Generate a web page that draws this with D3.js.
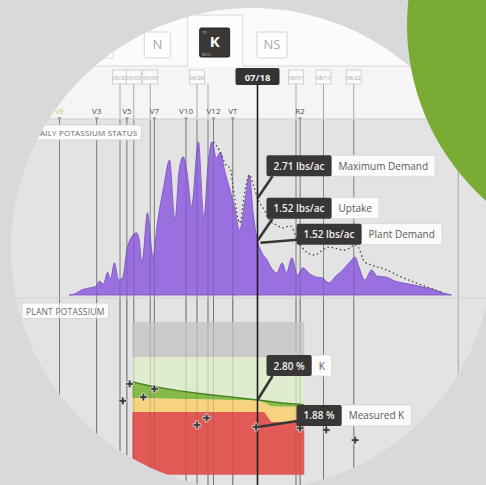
<!DOCTYPE html>
<html>
<head>
<meta charset="utf-8">
<script src="https://cdn.jsdelivr.net/npm/d3@7"></script>
<style>
  body { margin: 0; background: #d8d9db; }
  svg { display: block; font-family: "Open Sans", "Liberation Sans", Arial, sans-serif; }
</style>
</head>
<body>
<script>
'use strict';

// nutrient tabs
const tabNames = ['P', 'N', 'K', 'NS'];
const activeTab = 'K';

// growth stages (day of year)
const stageNames = ['VE', 'V3', 'V5', 'V7', 'V10', 'V12', 'VT', 'R2'];
const stageDays = [127, 140.5, 151.5, 161.5, 173, 183, 190, 214.5];

// sampling dates (day of year); an empty label is a line without a box
const dateLabels = ['05/29', '06/03', '06/09', '06/26', '', '07/18', '08/01', '08/11', '08/22'];
const dateDays = [149, 154, 160, 177, 181, 199, 213, 223, 234];
const selectedDay = 199;

// daily potassium uptake, lbs/ac
const uptakeDays = [
  130.5, 132.5, 135, 138, 140.5, 141.5, 143, 144.5, 145.5, 147,
  148.5, 150, 151.5, 153, 155, 156, 157, 159, 161, 162.5, 165,
  167, 169, 170.5, 172, 173.5, 175, 177.5, 179.5, 181, 182.5,
  184, 185.5, 187, 189, 190.5, 192.5, 194.5, 196, 197.5, 199,
  200.5, 202.5, 204, 206, 208, 209.5, 211.5, 213.5, 215.5, 218,
  220.5, 222.5, 225, 227.5, 230, 232.5, 234.5, 236, 238, 240.5,
  242.5, 246, 249, 251.5, 256, 260.5, 263.5, 266.5, 269.5];
const uptakeValues = [
  0, 0.03, 0.14, 0.2, 0.25, 0.39, 0.31, 0.64, 0.45, 0.9,
  0.42, 0.5, 1.26, 1.6, 1.74, 1.54, 0.9, 2.3, 1.06, 1.96, 3.08,
  3.78, 2.1, 3.5, 3.87, 3.36, 2.46, 4.29, 2.16, 3.64, 4.29,
  3.84, 4.0, 3.5, 2.94, 2.52, 1.82, 2.66, 3.36, 2.24, 1.52,
  1.2, 0.98, 0.76, 0.62, 0.9, 0.62, 1.04, 0.56, 0.76, 0.59,
  0.5, 0.48, 0.34, 0.53, 0.7, 0.92, 1.06, 0.76, 0.42, 0.7,
  0.53, 0.5, 0.39, 0.34, 0.28, 0.2, 0.14, 0.06, 0];

// maximum demand (dashed), lbs/ac
const maxDemandDays = [
  183, 185.5, 187.5, 189, 190.5, 192.5, 194.5, 196, 197.5, 199,
  201.5, 204, 206, 208, 211, 213.5, 216, 219.5, 225, 230.5,
  235, 238, 240.5, 246, 250.5, 256, 261.5, 266.5];
const maxDemandValues = [
  4.29, 4.0, 3.64, 3.56, 2.8, 2.02, 2.94, 3.36, 3.08, 2.71,
  2.38, 2.04, 1.96, 1.88, 1.93, 1.54, 1.26, 1.12, 1.34, 1.26,
  1.4, 0.92, 0.84, 0.7, 0.53, 0.36, 0.2, 0.06];

// plant potassium, %
const kDays = [153.5, 160, 170, 180, 190, 199, 208, 216];
const kValues = [3.42, 3.28, 3.12, 3.0, 2.9, 2.80, 2.70, 2.64];
const zoneDays = [153.5, 199, 201.5, 204, 216];
const sufficientLow = [2.87, 2.78, 2.72, 2.58, 2.56];
const deficientTop = [2.39, 2.39, 2.39, 2.05, 2.05];
const highBand = [4.27, 5.47];
const zoneBottom = 0.25;

const measuredDays = [150, 152.5, 157.5, 161.5, 177, 180.5, 198.5, 214.5, 224, 234.5];
const measuredValues = [2.77, 3.35, 2.9, 3.18, 1.95, 2.19, 1.88, 1.84, 1.78, 1.43];

// tooltip readouts at the selected date
const topTipValues = [2.71, 1.52, 1.52];
const topTipNames = ['Maximum Demand', 'Uptake', 'Plant Demand'];
const botTipValues = [2.80, 1.88];
const botTipNames = ['K', 'Measured K'];

const W = 486, H = 485;

const svg = d3.select('body').append('svg')
  .attr('width', W)
  .attr('height', H);

svg.append('rect').attr('width', W).attr('height', H).attr('fill', '#d8d9db');

svg.append('defs').append('clipPath').attr('id', 'lens')
  .append('circle').attr('cx', 252).attr('cy', 249).attr('r', 241);

const g = svg.append('g').attr('clip-path', 'url(#lens)');

// scales
const x = d3.scaleLinear().domain([121, 272]).range([43, 458.25]);
const yTop = d3.scaleLinear().domain([0, 4.9]).range([295, 120]);
const yBot = d3.scaleLinear().domain([0, 5.5]).range([482, 321]);

// backgrounds
g.append('rect').attr('width', W).attr('height', 66).attr('fill', '#fbfbfb');
g.append('rect').attr('y', 66).attr('width', W).attr('height', 53).attr('fill', '#f5f5f5');
g.append('rect').attr('y', 119).attr('width', W).attr('height', H - 119).attr('fill', '#e3e3e3');

// tabs
const tabX = d3.scalePoint().domain(tabNames).range([100, 272]);
const ax = tabX(activeTab);
g.append('rect').attr('x', ax - 27).attr('y', 15).attr('width', 55).attr('height', 52)
  .attr('fill', '#fdfdfd');
g.append('path')
  .attr('d', 'M0,66H' + (ax - 27) + 'V15H' + (ax + 28) + 'V66H' + W)
  .attr('fill', 'none').attr('stroke', '#d9d9d9');

tabNames.forEach(function(name) {
  const cx = tabX(name);
  const active = name === activeTab;
  const w = active ? 30 : (name === 'NS' ? 30 : 26);
  const h = active ? 29 : 26;
  const top = active ? 28 : 32;
  g.append('rect')
    .attr('x', cx - w / 2).attr('y', top).attr('width', w).attr('height', h)
    .attr('rx', 1.5)
    .attr('fill', active ? '#3a3735' : '#ffffff')
    .attr('stroke', active ? '#2a2725' : '#d4d4d4');
  g.append('text')
    .attr('x', cx).attr('y', top + h / 2 + 4)
    .attr('text-anchor', 'middle')
    .attr('font-size', active ? 15 : 13)
    .attr('font-weight', active ? 700 : 400)
    .attr('fill', active ? '#ffffff' : '#a8a8a8')
    .text(name);
  if (active) {
    g.append('text').attr('x', cx - w / 2 + 2).attr('y', top + 5.5)
      .attr('font-size', 4).attr('fill', '#cfcfcf').text('19');
    g.append('text').attr('x', cx - w / 2 + 2).attr('y', top + h - 1.5)
      .attr('font-size', 3.5).attr('fill', '#cfcfcf').text('39.10');
  }
});

// date markers and their lines
const dates = dateDays.map((d, i) => ({ day: d, label: dateLabels[i] }));
g.selectAll('.dline').data(dates.filter(d => d.day !== selectedDay)).enter().append('line')
  .attr('x1', d => x(d.day)).attr('x2', d => x(d.day))
  .attr('y1', 84).attr('y2', H)
  .attr('stroke', '#7c7c7c')
  .attr('stroke-width', 0.8)
  .attr('stroke-opacity', 0.8);

dates.filter(d => d.day !== selectedDay && d.label !== '').forEach(function(d) {
  const bw = 15;
  g.append('rect')
    .attr('x', x(d.day) - bw / 2).attr('y', 70).attr('width', bw).attr('height', 14)
    .attr('fill', '#fafafa').attr('stroke', '#c9c9c9').attr('stroke-width', 0.8);
  g.append('text')
    .attr('x', x(d.day)).attr('y', 79.5).attr('text-anchor', 'middle')
    .attr('font-size', 5.2).attr('fill', '#a3a3a3').text(d.label);
});
g.append('rect')
  .attr('x', x(selectedDay) - 22).attr('y', 68).attr('width', 44).attr('height', 17)
  .attr('rx', 2).attr('fill', '#353332');
g.append('text')
  .attr('x', x(selectedDay)).attr('y', 80.5).attr('text-anchor', 'middle')
  .attr('font-size', 9.5).attr('font-weight', 700).attr('fill', '#f2f2f2')
  .text(dateLabels[dateDays.indexOf(selectedDay)]);

// growth stages
const stages = stageDays.map((d, i) => ({ day: d, name: stageNames[i] }));
g.append('line').attr('x1', 0).attr('x2', W).attr('y1', 119).attr('y2', 119)
  .attr('stroke', '#cfcfcf');
g.selectAll('.stxt').data(stages).enter().append('text')
  .attr('x', d => x(d.day)).attr('y', 113.5)
  .attr('text-anchor', 'middle')
  .attr('font-size', 8)
  .attr('fill', d => d.name === 'VE' ? '#c6cf73' : '#4f4f4f')
  .text(d => d.name);
g.selectAll('.stick').data(stages).enter().append('path')
  .attr('d', d => 'M' + (x(d.day) - 2) + ',117.5h4l-2,3z')
  .attr('fill', '#8c8c8c');
g.selectAll('.sline').data(stages).enter().append('line')
  .attr('x1', d => x(d.day)).attr('x2', d => x(d.day))
  .attr('y1', 120).attr('y2', H)
  .attr('stroke', '#6e6e6e').attr('stroke-width', 0.8).attr('stroke-opacity', 0.8);

// panel borders
g.append('line').attr('x1', x(272)).attr('x2', x(272)).attr('y1', 119).attr('y2', H)
  .attr('stroke', '#9a9a9a').attr('stroke-width', 0.8);
g.append('line').attr('x1', 0).attr('x2', W).attr('y1', 298).attr('y2', 298)
  .attr('stroke', '#d2d2d2');

// ---- daily potassium status ----
const uptake = uptakeDays.map((d, i) => [d, uptakeValues[i]]);
const maxDemand = maxDemandDays.map((d, i) => [d, maxDemandValues[i]]);

g.append('path').datum(uptake)
  .attr('d', d3.area().curve(d3.curveMonotoneX)
    .x(d => x(d[0])).y0(yTop(0)).y1(d => yTop(d[1])))
  .attr('fill', '#9a6fe0')
  .attr('stroke', '#7652c0').attr('stroke-width', 0.8);

g.append('path').datum(maxDemand)
  .attr('d', d3.line().curve(d3.curveMonotoneX).x(d => x(d[0])).y(d => yTop(d[1])))
  .attr('fill', 'none')
  .attr('stroke', '#4a4a4a').attr('stroke-width', 1.3)
  .attr('stroke-dasharray', '1.6,2.6');

// grid lines over the fills, faint
const gridDays = dateDays.concat(stageDays).filter(d => d !== selectedDay);
g.selectAll('.over').data(gridDays).enter()
  .append('line')
  .attr('x1', d => x(d)).attr('x2', d => x(d))
  .attr('y1', 120).attr('y2', H)
  .attr('stroke', '#444').attr('stroke-width', 0.7).attr('stroke-opacity', 0.4);

function panelLabel(txt, lx, ly, size) {
  const t = g.append('text')
    .attr('x', lx + 4).attr('y', ly + size + 3)
    .attr('font-size', size).attr('fill', '#6a6a6a')
    .attr('letter-spacing', 0.2)
    .text(txt);
  const len = t.node().getComputedTextLength();
  g.insert('rect', function() { return t.node(); })
    .attr('x', lx).attr('y', ly).attr('width', len + 8).attr('height', size + 7)
    .attr('fill', '#fbfbfb').attr('stroke', '#d0d0d0').attr('stroke-width', 0.8);
}
panelLabel('DAILY POTASSIUM STATUS', 30, 125, 8);
panelLabel('PLANT POTASSIUM', 22, 303, 8.5);

// ---- plant potassium ----
const zones = zoneDays.map((d, i) => ({ day: d, low: sufficientLow[i], red: deficientTop[i] }));
const bandX0 = x(zoneDays[0]);
const bandX1 = x(zoneDays[zoneDays.length - 1]);

g.append('rect')
  .attr('x', bandX0).attr('width', bandX1 - bandX0)
  .attr('y', yBot(highBand[1])).attr('height', yBot(highBand[0]) - yBot(highBand[1]))
  .attr('fill', '#cbcbcb');
g.append('rect')
  .attr('x', bandX0).attr('width', bandX1 - bandX0)
  .attr('y', yBot(highBand[0])).attr('height', yBot(2.0) - yBot(highBand[0]))
  .attr('fill', '#dfecce');

const kPts = kDays.map((d, i) => [x(d), yBot(kValues[i])]);
const lowPts = zones.map(z => [x(z.day), yBot(z.low)]).reverse();
g.append('path')
  .attr('d', d3.line()(kPts.concat(lowPts)) + 'Z')
  .attr('fill', '#86bb48');

g.append('path').datum(zones)
  .attr('d', d3.area().x(d => x(d.day)).y0(d => yBot(d.red)).y1(d => yBot(d.low)))
  .attr('fill', '#f7d27f');
g.append('path').datum(zones)
  .attr('d', d3.area().x(d => x(d.day)).y0(yBot(zoneBottom)).y1(d => yBot(d.red)))
  .attr('fill', '#e15a55');

g.append('path').datum(kPts)
  .attr('d', d3.line())
  .attr('fill', 'none').attr('stroke', '#4a7f24').attr('stroke-width', 1.4);

// grid lines over the zones
g.selectAll('.over2').data(gridDays).enter()
  .append('line')
  .attr('x1', d => x(d)).attr('x2', d => x(d))
  .attr('y1', 299).attr('y2', H)
  .attr('stroke', '#444').attr('stroke-width', 0.7).attr('stroke-opacity', 0.3);

// selected date line on top
g.append('line')
  .attr('x1', x(selectedDay)).attr('x2', x(selectedDay))
  .attr('y1', 84).attr('y2', H)
  .attr('stroke', '#1e1e1e').attr('stroke-width', 1.6);

// measured K
const crossPath = d3.symbol().type(d3.symbolCross).size(34);
g.selectAll('.mk').data(measuredDays.map((d, i) => [d, measuredValues[i]])).enter()
  .append('path')
  .attr('transform', d => 'translate(' + x(d[0]) + ',' + yBot(d[1]) + ')')
  .attr('d', crossPath)
  .attr('fill', '#3a3a3a')
  .attr('stroke', 'rgba(255,255,255,0.7)').attr('stroke-width', 0.9);

// ---- tooltips ----
function tooltip(tx, ty, value, unit, name, dx, dy, fromLeft) {
  const bx = tx + dx, by = ty + dy, bh = 21;
  const tip = g.append('g');
  const vText = tip.append('text')
    .attr('x', bx + 7).attr('y', by + 14.5)
    .attr('font-size', 10).attr('font-weight', 600).attr('fill', '#f0f0f0')
    .text(value.toFixed(2) + unit);
  const vw = vText.node().getComputedTextLength() + 14;
  const nText = tip.append('text')
    .attr('x', bx + vw + 7).attr('y', by + 14.5)
    .attr('font-size', 10).attr('fill', '#5a5a5a')
    .text(name);
  const nw = nText.node().getComputedTextLength() + 14;
  tip.insert('rect', 'text')
    .attr('x', bx + vw).attr('y', by).attr('width', nw).attr('height', bh)
    .attr('fill', '#fbfbfb').attr('stroke', '#d6d6d6').attr('stroke-width', 0.8);
  tip.insert('rect', 'text')
    .attr('x', bx).attr('y', by).attr('width', vw).attr('height', bh)
    .attr('rx', 2).attr('fill', '#393736');
  const sx = fromLeft ? bx + 1 : bx + 6;
  const sy = fromLeft ? by + bh - 5 : by + bh;
  tip.insert('line', 'rect')
    .attr('x1', sx).attr('y1', sy).attr('x2', tx).attr('y2', ty)
    .attr('stroke', '#393736').attr('stroke-width', 2.6);
}

const sx = x(selectedDay);
tooltip(sx, yTop(topTipValues[0]), topTipValues[0], ' lbs/ac', topTipNames[0], 9, -43, false);
tooltip(sx, yTop(topTipValues[1]), topTipValues[1], ' lbs/ac', topTipNames[1], 9, -43, false);
tooltip(sx + 3, yTop(topTipValues[2]) + 2, topTipValues[2], ' lbs/ac', topTipNames[2], 36, -19, true);
tooltip(sx, yBot(botTipValues[0]), botTipValues[0], ' %', botTipNames[0], 9, -45, false);
tooltip(sx, yBot(botTipValues[1]), botTipValues[1], ' %', botTipNames[1], 39, -22, true);

// green corner shape
svg.append('circle')
  .attr('cx', 642).attr('cy', 25).attr('r', 235)
  .attr('fill', '#7aab35');
</script>
</body>
</html>
